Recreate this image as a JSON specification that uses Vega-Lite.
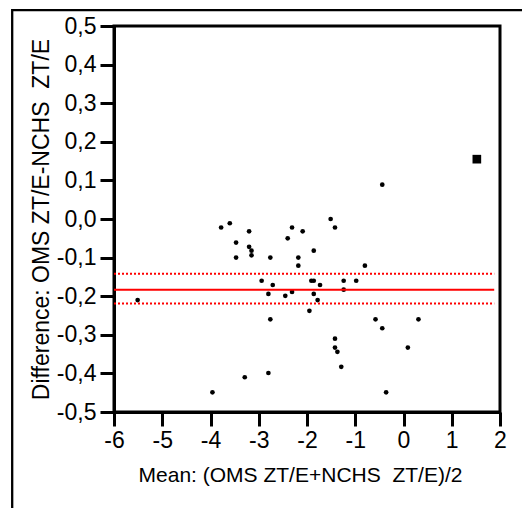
{
  "$schema": "https://vega.github.io/schema/vega-lite/v6.json",
  "width": 386,
  "height": 386,
  "autosize": {"type": "none"},
  "padding": {"left": 114, "top": 26, "right": 22, "bottom": 96},
  "background": "white",
  "config": {
    "view": {"stroke": "black", "strokeWidth": 3},
    "axisX": {
      "titleFont": "Liberation Sans", "titleFontWeight": "normal", "titleColor": "black", "titleFontSize": 21, "titleX": 186,
      "labelFont": "Liberation Sans", "labelFontSize": 23, "labelColor": "black",
      "domainColor": "black", "domainWidth": 3,
      "tickColor": "black", "tickWidth": 3, "tickSize": 14,
      "grid": false, "labelPadding": 3, "titlePadding": 12, "labelFlush": false, "labelOverlap": false
    },
    "axisY": {
      "titleFont": "Liberation Sans", "titleFontWeight": "normal", "titleColor": "black", "titleFontSize": 23,
      "labelFont": "Liberation Sans", "labelFontSize": 23, "labelColor": "black",
      "domainColor": "black", "domainWidth": 3,
      "tickColor": "black", "tickWidth": 3, "tickSize": 14,
      "grid": false, "labelPadding": 4, "titlePadding": 3, "labelFlush": false, "labelOverlap": false
    }
  },
  "datasets": {
    "points": [
      {"mean": -0.44, "difference": 0.089},
      {"mean": -3.78, "difference": -0.022},
      {"mean": -3.60, "difference": -0.011},
      {"mean": -3.20, "difference": -0.032},
      {"mean": -3.47, "difference": -0.061},
      {"mean": -3.47, "difference": -0.100},
      {"mean": -3.20, "difference": -0.072},
      {"mean": -3.15, "difference": -0.082},
      {"mean": -3.15, "difference": -0.094},
      {"mean": -2.76, "difference": -0.100},
      {"mean": -2.94, "difference": -0.160},
      {"mean": -2.71, "difference": -0.171},
      {"mean": -2.80, "difference": -0.194},
      {"mean": -2.76, "difference": -0.260},
      {"mean": -2.80, "difference": -0.399},
      {"mean": -3.29, "difference": -0.410},
      {"mean": -3.96, "difference": -0.449},
      {"mean": -5.51, "difference": -0.210},
      {"mean": -2.31, "difference": -0.022},
      {"mean": -2.09, "difference": -0.032},
      {"mean": -2.40, "difference": -0.050},
      {"mean": -1.86, "difference": -0.082},
      {"mean": -2.18, "difference": -0.100},
      {"mean": -2.18, "difference": -0.121},
      {"mean": -1.91, "difference": -0.160},
      {"mean": -1.86, "difference": -0.160},
      {"mean": -1.73, "difference": -0.171},
      {"mean": -2.31, "difference": -0.189},
      {"mean": -2.45, "difference": -0.199},
      {"mean": -1.86, "difference": -0.194},
      {"mean": -1.78, "difference": -0.210},
      {"mean": -1.95, "difference": -0.238},
      {"mean": -1.51, "difference": 0.000},
      {"mean": -1.42, "difference": -0.022},
      {"mean": -1.24, "difference": -0.160},
      {"mean": -1.24, "difference": -0.183},
      {"mean": -0.98, "difference": -0.160},
      {"mean": -0.80, "difference": -0.121},
      {"mean": -0.58, "difference": -0.260},
      {"mean": -0.44, "difference": -0.283},
      {"mean": 0.31, "difference": -0.260},
      {"mean": 0.09, "difference": -0.333},
      {"mean": -1.42, "difference": -0.310},
      {"mean": -1.42, "difference": -0.333},
      {"mean": -1.37, "difference": -0.344},
      {"mean": -1.29, "difference": -0.383},
      {"mean": -0.36, "difference": -0.449}
    ],
    "outlier": [
      {"mean": 1.52, "difference": 0.155}
    ],
    "lines": [
      {"difference": -0.183, "kind": "mean"},
      {"difference": -0.142, "kind": "limit"},
      {"difference": -0.219, "kind": "limit"}
    ]
  },
  "layer": [
    {
      "data": {"name": "points"},
      "mark": {"type": "circle", "color": "black", "size": 22, "opacity": 1},
      "encoding": {
        "x": {
          "field": "mean", "type": "quantitative",
          "scale": {"domain": [-6, 2], "nice": false, "zero": false},
          "axis": {
            "title": "Mean: (OMS ZT/E+NCHS \u00a0ZT/E)/2",
            "values": [-6, -5, -4, -3, -2, -1, 0, 1, 2],
            "labelExpr": "replace(format(datum.value, 'd'), '\u2212', '-')"
          }
        },
        "y": {
          "field": "difference", "type": "quantitative",
          "scale": {"domain": [-0.5, 0.5], "nice": false, "zero": false},
          "axis": {
            "title": "Difference: OMS ZT/E-NCHS \u00a0ZT/E",
            "values": [-0.5, -0.4, -0.3, -0.2, -0.1, 0, 0.1, 0.2, 0.3, 0.4, 0.5],
            "labelExpr": "replace(replace(format(datum.value, '.1f'), '.', ','), '\u2212', '-')"
          }
        }
      }
    },
    {
      "data": {"name": "outlier"},
      "mark": {"type": "square", "color": "black", "size": 75, "opacity": 1},
      "encoding": {
        "x": {
          "field": "mean", "type": "quantitative",
          "scale": {"domain": [-6, 2], "nice": false, "zero": false},
          "axis": {
            "title": "Mean: (OMS ZT/E+NCHS \u00a0ZT/E)/2",
            "values": [-6, -5, -4, -3, -2, -1, 0, 1, 2],
            "labelExpr": "replace(format(datum.value, 'd'), '\u2212', '-')"
          }
        },
        "y": {
          "field": "difference", "type": "quantitative",
          "scale": {"domain": [-0.5, 0.5], "nice": false, "zero": false},
          "axis": {
            "title": "Difference: OMS ZT/E-NCHS \u00a0ZT/E",
            "values": [-0.5, -0.4, -0.3, -0.2, -0.1, 0, 0.1, 0.2, 0.3, 0.4, 0.5],
            "labelExpr": "replace(replace(format(datum.value, '.1f'), '.', ','), '\u2212', '-')"
          }
        }
      }
    },
    {
      "data": {"name": "lines"},
      "mark": {"type": "rule", "color": "#ff0000", "strokeWidth": 2},
      "encoding": {
        "x": {
          "datum": -6, "type": "quantitative",
          "scale": {"domain": [-6, 2], "nice": false, "zero": false},
          "axis": {
            "title": "Mean: (OMS ZT/E+NCHS \u00a0ZT/E)/2",
            "values": [-6, -5, -4, -3, -2, -1, 0, 1, 2],
            "labelExpr": "replace(format(datum.value, 'd'), '\u2212', '-')"
          }
        },
        "x2": {"datum": 1.88},
        "y": {
          "field": "difference", "type": "quantitative",
          "scale": {"domain": [-0.5, 0.5], "nice": false, "zero": false},
          "axis": {
            "title": "Difference: OMS ZT/E-NCHS \u00a0ZT/E",
            "values": [-0.5, -0.4, -0.3, -0.2, -0.1, 0, 0.1, 0.2, 0.3, 0.4, 0.5],
            "labelExpr": "replace(replace(format(datum.value, '.1f'), '.', ','), '\u2212', '-')"
          }
        },
        "strokeDash": {"field": "kind", "type": "nominal", "scale": {"domain": ["mean", "limit"], "range": [[1, 0], [2, 2]]}, "legend": null}
      }
    },
    {
      "data": {"values": [{}]},
      "mark": {"type": "rect", "fill": "white", "fillOpacity": 0, "stroke": "black", "strokeWidth": 2.3, "clip": false},
      "encoding": {
        "x": {
          "datum": -8.11, "type": "quantitative",
          "scale": {"domain": [-6, 2], "nice": false, "zero": false},
          "axis": {
            "title": "Mean: (OMS ZT/E+NCHS \u00a0ZT/E)/2",
            "values": [-6, -5, -4, -3, -2, -1, 0, 1, 2],
            "labelExpr": "replace(format(datum.value, 'd'), '\u2212', '-')"
          }
        },
        "x2": {"datum": 2.8},
        "y": {
          "datum": 0.541, "type": "quantitative",
          "scale": {"domain": [-0.5, 0.5], "nice": false, "zero": false},
          "axis": {
            "title": "Difference: OMS ZT/E-NCHS \u00a0ZT/E",
            "values": [-0.5, -0.4, -0.3, -0.2, -0.1, 0, 0.1, 0.2, 0.3, 0.4, 0.5],
            "labelExpr": "replace(replace(format(datum.value, '.1f'), '.', ','), '\u2212', '-')"
          }
        },
        "y2": {"datum": -0.85}
      }
    }
  ]
}
